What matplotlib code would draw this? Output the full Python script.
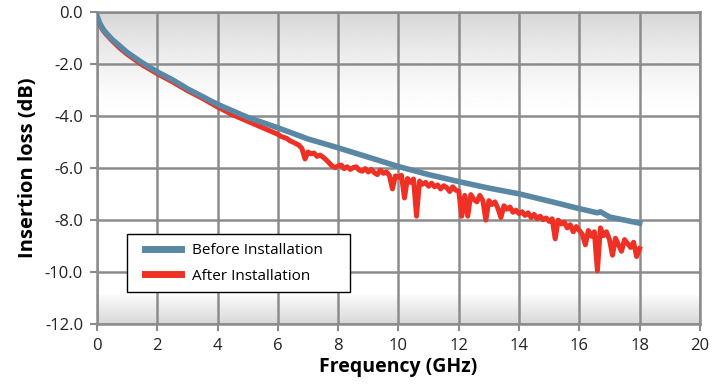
import matplotlib.pyplot as plt
from matplotlib.legend_handler import HandlerLine2D
import numpy as np

plt.rcParams['font.family'] = ['Open Sans', 'DejaVu Sans']

# Before Installation (GHz, dB)
freq_before = [0.0, 0.1, 0.2, 0.3, 0.5, 0.75, 1.0, 1.5, 2.0, 2.5, 3.0, 3.5, 4.0,
               5.0, 6.0, 7.0, 8.0, 9.0, 10.0, 11.0, 12.0, 13.0, 14.0, 15.0,
               16.0, 16.6, 16.7, 17.0, 17.5, 18.0]
loss_before = [-0.15, -0.45, -0.65, -0.8, -1.05, -1.3, -1.55, -1.95, -2.3, -2.6,
               -2.95, -3.25, -3.55, -4.05, -4.45, -4.88, -5.22, -5.58, -5.94,
               -6.25, -6.52, -6.77, -6.99, -7.27, -7.56, -7.72, -7.68, -7.88,
               -8.0, -8.12]

# After Installation (GHz, dB): coarse up to 6 GHz, then every 0.1 GHz
freq_after = [0.0, 0.1, 0.2, 0.3, 0.5, 0.75, 1.0, 1.5, 2.0, 2.5, 3.0, 3.5, 4.0,
              4.5, 5.0, 5.5] + [round(6 + 0.1 * i, 1) for i in range(121)]
loss_after = [-0.25, -0.5, -0.7, -0.85, -1.1, -1.38, -1.62, -2.03, -2.37, -2.68,
              -3.02, -3.32, -3.65, -3.95, -4.2, -4.45,
              # 6.0 - 6.9
              -4.70, -4.78, -4.82, -4.86, -4.95, -5.00, -5.06, -5.12, -5.25, -5.65,
              # 7.0 - 7.9
              -5.38, -5.45, -5.42, -5.55, -5.50, -5.58, -5.68, -5.80, -5.92, -5.98,
              # 8.0 - 8.9
              -5.92, -5.88, -6.02, -5.95, -6.05, -5.98, -5.95, -6.08, -6.12, -6.02,
              # 9.0 - 9.9
              -6.15, -6.05, -6.18, -6.25, -6.08, -6.20, -6.15, -6.28, -6.80, -6.30,
              # 10.0 - 10.9
              -6.35, -6.28, -7.15, -6.40, -6.55, -6.42, -7.85, -6.50, -6.62, -6.55,
              # 11.0 - 11.9
              -6.70, -6.58, -6.72, -6.65, -6.80, -6.68, -6.75, -6.90, -6.72, -6.85,
              # 12.0 - 12.9
              -6.88, -7.85, -7.05, -7.85, -7.02, -7.20, -7.30, -7.05, -7.25, -8.00,
              # 13.0 - 13.9
              -7.25, -7.40, -7.30, -7.55, -7.90, -7.45, -7.58, -7.50, -7.70, -7.62,
              # 14.0 - 14.9
              -7.75, -7.68, -7.82, -7.72, -7.90, -7.78, -7.95, -7.85, -7.98, -7.92,
              # 15.0 - 15.9
              -8.05, -7.95, -8.72, -8.00, -8.15, -8.08, -8.30, -8.18, -8.45, -8.25,
              # 16.0 - 16.9
              -8.40, -8.55, -8.95, -8.40, -8.62, -8.45, -9.95, -8.30, -8.60, -8.45,
              # 17.0 - 18.0
              -8.75, -9.35, -8.70, -8.95, -9.20, -8.75, -8.90, -9.05, -8.85, -9.40,
              -9.10]

x_ticks = list(range(0, 21, 2))
y_ticks = list(range(-12, 1, 2))

fig = plt.figure(figsize=(7.12, 3.9), dpi=100)
ax = fig.add_axes([0.1362, 0.169, 0.8468, 0.80])

# background: grey fade at top and a grey band at the bottom
yy = np.linspace(0, -12, 400)
shade = np.ones_like(yy)
top = yy > -4
shade[top] = 1 - 0.16 * ((yy[top] + 4) / 4) ** 1.5
bot = yy < -10.9
shade[bot] = 0.985 - 0.14 * ((-10.9 - yy[bot]) / 1.1)
ax.imshow(shade[:, None], extent=[0, 20, -12, 0], aspect='auto', cmap='gray',
          vmin=0, vmax=1, zorder=0, interpolation='bilinear')

grid_c = '#8c8c8c'
red_line, = ax.plot(freq_after, loss_after, color='#ee3124', lw=3.6,
                    label='After Installation', zorder=3)
blue_line, = ax.plot(freq_before, loss_before, color='#5a87a4', lw=4.0,
                     label='Before Installation', zorder=4)

ax.set_xlim(0, 20)
ax.set_ylim(-12, 0)
ax.set_xticks(x_ticks)
ax.set_yticks(y_ticks)
ax.set_yticklabels(['%.1f' % v for v in y_ticks])
ax.grid(True, color=grid_c, lw=1.8, zorder=1)
ax.set_axisbelow(False)
for s in ax.spines.values():
    s.set_color(grid_c)
    s.set_linewidth(1.8)
ax.tick_params(color=grid_c, width=1.5, length=5, labelsize=12, labelcolor='#222222',
               pad=5)

ax.set_xlabel('Frequency (GHz)', fontsize=14, fontweight='bold', labelpad=2)
ax.set_ylabel('Insertion loss (dB)', fontsize=14.5, fontweight='bold', labelpad=5)

hmap = {blue_line: HandlerLine2D(xpad=0.6), red_line: HandlerLine2D(xpad=0.6)}
leg = ax.legend([blue_line, red_line], ['Before Installation', 'After Installation'],
                handler_map=hmap, loc='lower left',
                bbox_to_anchor=(0.0498, 0.103, 0.37, 0.19), mode='expand',
                fancybox=False, edgecolor='black', framealpha=1, fontsize=11,
                handlelength=3.0, handletextpad=0.7, borderpad=0.55, labelspacing=0.7,
                borderaxespad=0)
leg.get_frame().set_linewidth(1.0)
for line in leg.get_lines():
    line.set_linewidth(5)

fig.savefig('out.png', dpi=100)
